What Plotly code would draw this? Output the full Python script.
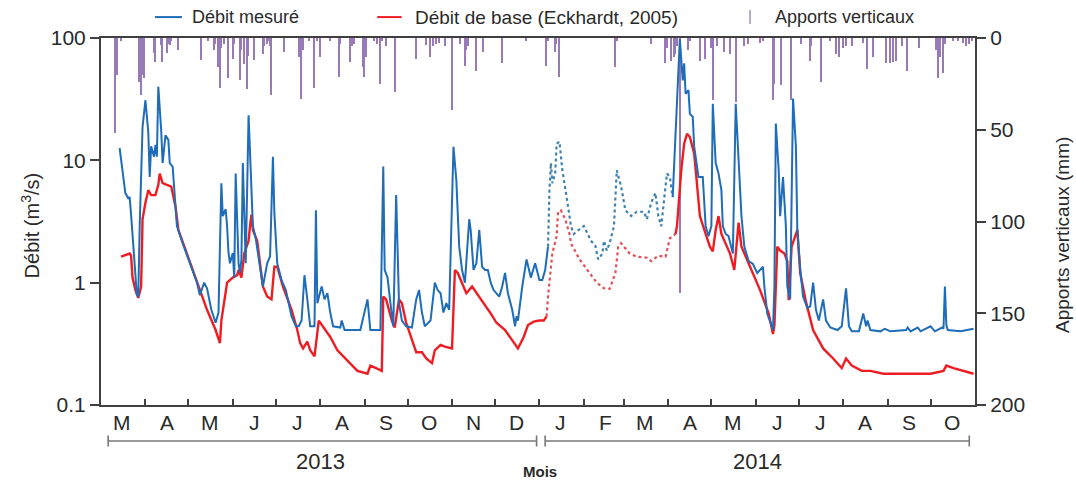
import pandas as pd
import plotly.graph_objects as go

# ---------------- data (days counted from 1 March 2013) ----------------
base = pd.Timestamp("2013-03-01")

debit_j1 = [13,17,19,20,21,25,26,27,29,31,
            33,34,35,37,38,39,40,42,43,45,
            47,48,50,51,53,57,62,67,69,72,
            74,77,80,82,84,85,87,88,89,90,
            92,93,94,95,96,97,98,99,100,101,
            103,105,106,108,111,113,116,118,120,121,
            123,126,129,131,133,136,138,140,142,144,
            146,149,150,151,154,156,158,160,162,167,
            168,170,181,186,188,195,197,198,200,202,
            204,206,208,210,213,217,220,222,224,226,
            230,233,235,237,239,241,243,246,248,250,
            252,254,257,258,260,262,264,266,268,270,
            272,274,278,280,282,284,287,289,290,291,
            294,297,300,303,306,308,310,312]
debit_v1 = [12.6,5.4,4.9,5.0,3.6,0.8,0.77,2.9,18.8,31,
            17,7.3,13,10.7,13.4,10.7,40,17.7,9.5,16,
            14.7,9.5,8.9,6.1,2.9,2.1,1.44,1.0,0.79,1.0,
            0.9,0.6,0.47,0.57,6.5,3.5,4.0,2.9,1.75,1.44,
            1.75,1.1,7.8,3.1,1.44,1.2,1.55,9.5,3.1,1.44,
            23.4,6.9,2.9,2.3,1.35,0.93,1.44,1.64,10.7,3.7,
            1.44,1.05,0.87,0.68,0.53,0.44,0.44,0.49,1.15,0.73,
            0.44,0.44,3.9,0.68,0.93,0.73,0.82,0.57,0.44,0.43,
            0.49,0.41,0.41,0.73,0.41,0.41,8.9,1.27,1.1,0.68,
            0.44,5.2,0.68,0.49,0.44,0.43,0.73,0.87,0.57,0.44,
            0.49,1.0,0.87,0.82,0.57,0.68,0.6,12.9,6.9,1.97,
            1.27,1.0,3.3,2.7,1.27,1.44,2.7,1.35,1.27,1.27,
            1.0,0.87,0.77,0.93,1.2,0.82,0.6,0.44,0.53,0.49,
            0.93,1.55,1.1,1.44,1.05,1.05,1.27,1.97]

debit_jd = [312,313,314,315,317,318,320,322,325,328,
            330,333,335,337,340,342,345,347,350,351,
            353,355,358,360,363,366,370,374,379,381,
            384,387,389,391,395,397,399]
debit_vd = [1.97,5.7,9.5,6.5,7.8,13.7,14.2,8.3,5.0,2.9,
            2.5,2.7,2.8,2.9,2.5,2.2,2.0,1.55,1.73,2.2,
            1.83,2.1,2.9,8.3,6.1,3.9,3.5,3.8,3.8,3.3,
            4.5,5.4,3.5,2.9,7.8,7.3,5.0]

debit_j2 = [399,401,403,404,406,407,408,410,411,413,
            414,417,420,421,422,424,426,427,429,431,
            433,434,436,438,441,443,445,447,449,452,
            455,458,462,463,465,467,469,470,471,473,
            474,476,478,479,481,483,485,486,488,490,
            493,495,497,499,501,504,506,509,514,517,
            520,522,524,529,532,534,535,537,544,547,
            551,562,563,565,570,572,579,582,587,588,
            589,590,591,600,609]
debit_v2 = [5.0,15.5,62,98,45,62,35,37.5,24,22.7,
            13,7.3,7.3,5.0,2.9,2.4,2.9,29,9.5,7.8,
            5.7,2.9,2.5,2.4,1.73,29,10.7,3.5,1.97,1.5,
            1.42,1.2,1.35,0.93,0.56,0.47,0.41,0.93,20,8.3,
            3.5,7.3,2.9,0.93,0.73,32,13,2.7,1.3,0.77,
            0.62,0.64,1.0,0.6,0.49,0.73,0.49,0.43,0.41,0.44,
            0.9,0.44,0.40,0.40,0.56,0.44,0.49,0.41,0.40,0.42,
            0.40,0.41,0.43,0.40,0.43,0.40,0.44,0.40,0.43,0.42,
            0.93,0.45,0.41,0.40,0.42]

base_j1 = [14,20,21,22,24,26,28,29,31,33,
           35,38,40,41,43,46,49,50,52,54,
           60,67,74,80,83,84,88,92,95,96,
           98,100,103,104,105,106,109,111,113,116,
           119,121,123,127,133,137,139,141,144,146,
           149,152,155,160,165,172,179,186,188,192,
           196,197,199,203,205,208,210,213,217,220,
           224,227,231,233,237,240,245,247,249,252,
           255,259,262,267,272,276,282,287,291,295,
           298,302,306,309,311]
base_v1 = [1.63,1.73,1.66,1.1,0.87,0.75,0.93,3.3,4.5,5.7,
           5.2,5.2,6.3,7.8,6.5,6.3,6.1,5.4,4.2,2.7,
           1.73,1.05,0.6,0.41,0.32,0.49,1.0,1.1,1.15,1.27,
           1.1,1.73,2.2,2.9,3.6,2.7,2.2,1.44,0.93,0.77,
           0.73,1.35,1.35,0.93,0.6,0.41,0.32,0.29,0.33,0.28,
           0.25,0.49,0.44,0.36,0.28,0.23,0.19,0.18,0.21,0.2,
           0.19,0.77,0.73,0.49,0.43,0.73,0.68,0.47,0.34,0.27,
           0.27,0.24,0.22,0.28,0.31,0.30,0.29,1.27,1.2,1.0,
           0.82,0.93,0.82,0.68,0.56,0.47,0.41,0.34,0.29,0.36,
           0.45,0.48,0.49,0.49,0.53]

base_jd = [311,312,315,318,319,321,324,326,327,328,
           334,341,346,351,355,359,361,363,369,374,
           381,384,389,394,397,401]
base_vd = [0.53,0.77,1.73,2.4,3.8,3.9,3.3,2.7,2.5,2.1,
           1.55,1.2,1.0,0.9,0.89,1.2,1.97,2.1,1.73,1.63,
           1.6,1.5,1.66,1.63,2.3,2.5]

base_j2 = [401,402,405,407,409,411,414,416,418,422,425,
           427,429,431,433,439,442,445,447,453,460,
           466,469,470,472,474,477,479,480,482,486,
           488,492,497,504,511,517,520,524,531,537,
           546,555,579,588,590,595,602,609]
base_v2 = [2.5,2.9,8.3,13.7,16.5,15.5,11.4,6.1,3.5,2.5,1.97,
           1.8,2.7,3.5,2.5,1.73,1.27,3.1,1.97,1.35,0.87,
           0.56,0.38,0.45,1.97,1.83,1.73,1.5,0.72,1.97,2.7,
           1.2,0.7,0.41,0.29,0.24,0.20,0.24,0.21,0.19,0.19,
           0.18,0.18,0.18,0.19,0.21,0.2,0.19,0.18]

pluie_j = [10,11,14,27,28,29,30,37,38,42,
           43,46,47,48,49,54,70,75,79,80,
           82,83,84,86,89,92,93,97,98,100,
           102,103,107,113,114,116,117,118,119,128,
           138,140,141,145,149,151,153,160,166,167,
           174,175,177,183,184,185,191,193,195,196,
           199,205,220,227,230,232,234,236,240,245,
           251,254,255,256,262,267,280,297,311,312,
           317,318,320,359,360,384,394,395,398,400,
           401,402,404,410,411,418,422,426,427,430,
           435,439,443,449,452,460,462,469,470,475,
           482,489,495,496,503,509,513,515,518,520,
           524,532,535,539,548,551,553,555,559,563,
           571,583,584,586,588,589,595,598,602,604,
           606,608]
pluie_mm = [52,20,1.5,24,31,20,22,8,13,4,
            13,8,3.5,4,1.5,6.5,12,1.5,6.5,3.5,
            16,27,5.4,3.5,22,11.5,3.5,23,6.5,14,
            28,10,12,8.5,4.4,3,1.5,4.4,31,7.6,
            10.4,33,6.5,1.5,27,1.5,10.4,1.5,21,3.5,
            13,4.4,3.5,16,21,10.4,1.5,3.5,25,1.5,
            4.4,29.6,11.5,4,10.4,4.4,3.5,2.5,4.4,39,
            3.5,15,6.5,4.4,17.8,7.6,13.8,1.5,15,1.5,
            7.6,3.5,21,16,1.5,3.5,13.8,5.4,12.4,10.4,
            8.5,4.4,139,6.5,1.5,12.4,11.5,5.4,34,4.4,
            7.6,8.5,35,4.4,3.5,2.5,1.5,34,25,25.6,
            34,3.5,12.4,4.4,24,1.5,8.5,10.4,5.4,4.4,
            4.4,2.5,17,10.4,13.8,13.8,13,12.4,4.4,17.8,
            5.4,6.5,22,10.4,19,3.5,1.5,1.5,2.5,4.4,
            3.5,1.5]

mois_2013 = ["M", "A", "M", "J", "J", "A", "S", "O", "N", "D"]
mois_2014 = ["J", "F", "M", "A", "M", "J", "J", "A", "S", "O"]
debit_ticks = [0.1, 1, 10, 100]
debit_labels = ["0.1", "1", "10", "100"]
pluie_ticks = [0, 50, 100, 150, 200]


def dates(days):
    return [base + pd.Timedelta(days=d) for d in days]


# ---------------- figure ----------------
BLUE = "#1f6cb8"
RED = "#ee1d23"
PURPLE = "#7b55a3"
AX = "#404040"
TXT = "#2a2a2a"
FONT = "Liberation Sans, Arial, sans-serif"

fig = go.Figure()

fig.add_trace(go.Bar(x=dates(pluie_j), y=pluie_mm, width=86400000 * 1.0,
                     marker=dict(color=PURPLE, line=dict(width=0)), opacity=0.78,
                     xaxis="x", yaxis="y", name="Apports verticaux"))

line_specs = [
    (base_j1, base_v1, RED, "solid", 2.4),
    (base_jd, base_vd, "#e2505a", "dot", 2.2),
    (base_j2, base_v2, RED, "solid", 2.4),
    (debit_j1, debit_v1, BLUE, "solid", 2.0),
    (debit_jd, debit_vd, "#3f82ad", "dot", 2.2),
    (debit_j2, debit_v2, BLUE, "solid", 2.0),
]
for j, v, col, dash, w in line_specs:
    fig.add_trace(go.Scatter(x=dates(j), y=v, mode="lines",
                             line=dict(color=col, width=w, dash=dash),
                             xaxis="x", yaxis="y2", showlegend=False))

month_starts = [pd.Timestamp(2013, 3, 1) + pd.DateOffset(months=k) for k in range(21)]
mid_months = [m + pd.Timedelta(days=15) for m in month_starts[:20]]
letters = mois_2013 + mois_2014


def txt(x, y, t, size, xref="paper", angle=0, xanchor="center"):
    return dict(x=x, y=y, xref=xref, yref="paper", text=t, textangle=angle,
                showarrow=False, xanchor=xanchor, yanchor="middle",
                font=dict(size=size, color=TXT, family=FONT))


annotations = [txt(d, -0.047, t, 21, xref="x") for d, t in zip(mid_months, letters)]
annotations += [
    txt(base + pd.Timedelta(days=153), -0.155, "2013", 22, xref="x"),
    txt(base + pd.Timedelta(days=458), -0.155, "2014", 22, xref="x"),
    txt(0.502, -0.18, "<b>Mois</b>", 15),
    txt(-0.081, 0.49, "Débit (m<sup>3</sup>/s)", 20, angle=-90),
    txt(1.0995, 0.463, "Apports verticaux (mm)", 19, angle=-90),
    txt(0.1018, 1.057, "Débit mesuré", 18, xanchor="left"),
    txt(0.357, 1.057, "Débit de base (Eckhardt, 2005)", 19, xanchor="left"),
    txt(0.769, 1.057, "Apports verticaux", 18, xanchor="left"),
]

shapes = [
    dict(type="line", xref="paper", yref="paper", x0=0.0618, x1=0.0927, y0=1.057, y1=1.057,
         line=dict(color=BLUE, width=2)),
    dict(type="line", xref="paper", yref="paper", x0=0.316, x1=0.344, y0=1.057, y1=1.057,
         line=dict(color=RED, width=2)),
    dict(type="line", xref="paper", yref="paper", x0=0.7426, x1=0.7426, y0=1.038, y1=1.076,
         line=dict(color="#8a78a0", width=1.2)),
]
gris = "#777777"
for d0, d1 in [(5, 304), (310, 606)]:
    x0 = base + pd.Timedelta(days=d0)
    x1 = base + pd.Timedelta(days=d1)
    shapes.append(dict(type="line", xref="x", yref="paper", x0=x0, x1=x1, y0=-0.098, y1=-0.098,
                       line=dict(color=gris, width=1.6)))
    for xx in (x0, x1):
        shapes.append(dict(type="line", xref="x", yref="paper", x0=xx, x1=xx, y0=-0.083, y1=-0.113,
                           line=dict(color=gris, width=1.6)))

fig.update_layout(
    width=1076, height=481,
    margin=dict(l=101, r=101, t=38, b=76),
    paper_bgcolor="white", plot_bgcolor="white",
    showlegend=False, bargap=0,
    font=dict(family=FONT, color=TXT),
    xaxis=dict(type="date", range=[base, base + pd.Timedelta(days=610)],
               tickvals=month_starts, showticklabels=False,
               ticks="inside", ticklen=6, tickwidth=1.5, tickcolor=AX,
               showline=True, linecolor=AX, linewidth=2, mirror=True,
               showgrid=False, zeroline=False),
    yaxis=dict(side="right", range=[200, 0], tickvals=pluie_ticks,
               ticks="outside", ticklen=9, tickwidth=1.5, tickcolor=AX,
               showline=True, linecolor=AX, linewidth=2,
               showgrid=False, zeroline=False,
               tickfont=dict(size=21, color=TXT, family=FONT)),
    yaxis2=dict(overlaying="y", side="left", type="log", range=[-1, 2],
                tickvals=debit_ticks, ticktext=debit_labels,
                ticks="outside", ticklen=9, tickwidth=1.5, tickcolor=AX,
                showline=True, linecolor=AX, linewidth=2,
                showgrid=False, zeroline=False,
                tickfont=dict(size=21, color=TXT, family=FONT)),
    annotations=annotations,
    shapes=shapes,
)

fig.write_html("out.html",
               config={"displayModeBar": False},
               post_script="document.body.style.margin='0';document.body.style.overflow='hidden';")
